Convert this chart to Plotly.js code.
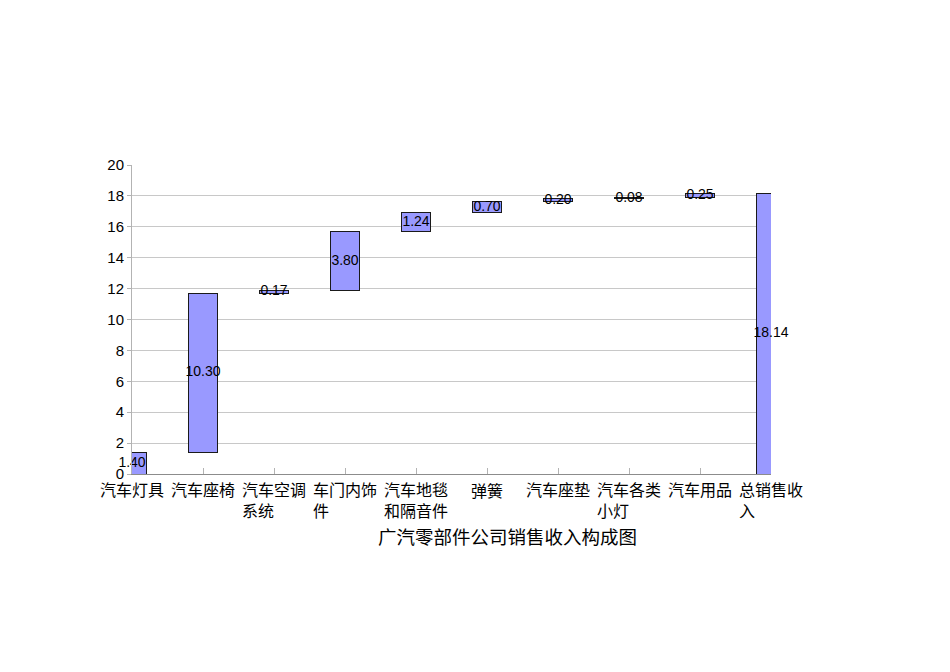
<!DOCTYPE html>
<html>
<head>
<meta charset="utf-8">
<script src="https://cdn.plot.ly/plotly-3.0.1.min.js"></script>
<style>
  html, body { margin: 0; padding: 0; background: #fff; }
  #chart { width: 950px; height: 672px; }
</style>
</head>
<body>
<div id="chart"></div>
<script>
// 广汽零部件公司销售收入构成 (waterfall drawn as stacked bars)
const categories = ['汽车灯具', '汽车座椅', '汽车空调系统', '车门内饰件', '汽车地毯和隔音件',
  '弹簧', '汽车座垫', '汽车各类小灯', '汽车用品', '总销售收入'];
const tickLabels = ['汽车灯具', '汽车座椅', '汽车空调<br>系统', '车门内饰<br>件', '汽车地毯<br>和隔音件',
  '弹簧', '汽车座垫', '汽车各类<br>小灯', '汽车用品', '总销售收<br>入'];
const values = [1.40, 10.30, 0.17, 3.80, 1.24, 0.70, 0.20, 0.08, 0.25, 18.14];
const isTotal = [false, false, false, false, false, false, false, false, false, true];

const FONT = 'Liberation Sans, Noto Sans CJK SC, sans-serif';

// running base for each step, total bar starts at 0
let run = 0;
const bases = values.map((v, i) => {
  if (isTotal[i]) return 0;
  const b = run;
  run += v;
  return b;
});
const mids = values.map((v, i) => bases[i] + v / 2);

const data = [
  {
    type: 'bar',
    x: categories,
    y: bases,
    marker: { color: 'rgba(0,0,0,0)', line: { width: 0 } },
    hoverinfo: 'skip',
    showlegend: false,
  },
  {
    type: 'bar',
    x: categories,
    y: values,
    marker: { color: '#9999ff', line: { color: '#1a1a1a', width: 1 } },
    showlegend: false,
  },
  {
    type: 'scatter',
    mode: 'text',
    x: categories,
    y: mids,
    text: values.map(v => v.toFixed(2)),
    textposition: 'middle center',
    textfont: { family: FONT, size: 14, color: '#000' },
    cliponaxis: false,
    hoverinfo: 'skip',
    showlegend: false,
  },
];

const annotations = tickLabels.map((t, i) => ({
  x: i,
  xref: 'x',
  y: 0,
  yref: 'paper',
  yanchor: 'top',
  xanchor: 'center',
  yshift: -6,
  align: 'left',
  text: t,
  showarrow: false,
  font: { family: FONT, size: 16, color: '#000' },
}));

annotations.push({
  x: 0.587,
  xref: 'paper',
  y: -0.204,
  yref: 'paper',
  xanchor: 'center',
  yanchor: 'middle',
  text: '广汽零部件公司销售收入构成图',
  showarrow: false,
  font: { family: FONT, size: 18.5, color: '#000' },
});

const layout = {
  width: 950,
  height: 672,
  paper_bgcolor: '#fff',
  plot_bgcolor: '#fff',
  margin: { l: 132, r: 179, t: 165, b: 198 },
  barmode: 'stack',
  bargap: 0.59,
  showlegend: false,
  font: { family: FONT, size: 15, color: '#000' },
  xaxis: {
    type: 'category',
    range: [0, 9],
    showticklabels: false,
    ticks: 'inside',
    ticklen: 6,
    tickcolor: '#b3b3b3',
    showgrid: false,
    showline: true,
    linecolor: '#8c8c8c',
    linewidth: 1,
    zeroline: false,
  },
  yaxis: {
    range: [0, 20],
    dtick: 2,
    ticks: 'outside',
    ticklen: 4,
    tickcolor: '#b3b3b3',
    showgrid: true,
    gridcolor: '#c8c8c8',
    showline: true,
    linecolor: '#b3b3b3',
    zeroline: false,
    tickfont: { family: FONT, size: 15, color: '#000' },
  },
  annotations: annotations,
};

Plotly.newPlot('chart', data, layout, { displayModeBar: false, staticPlot: true });
</script>
</body>
</html>
